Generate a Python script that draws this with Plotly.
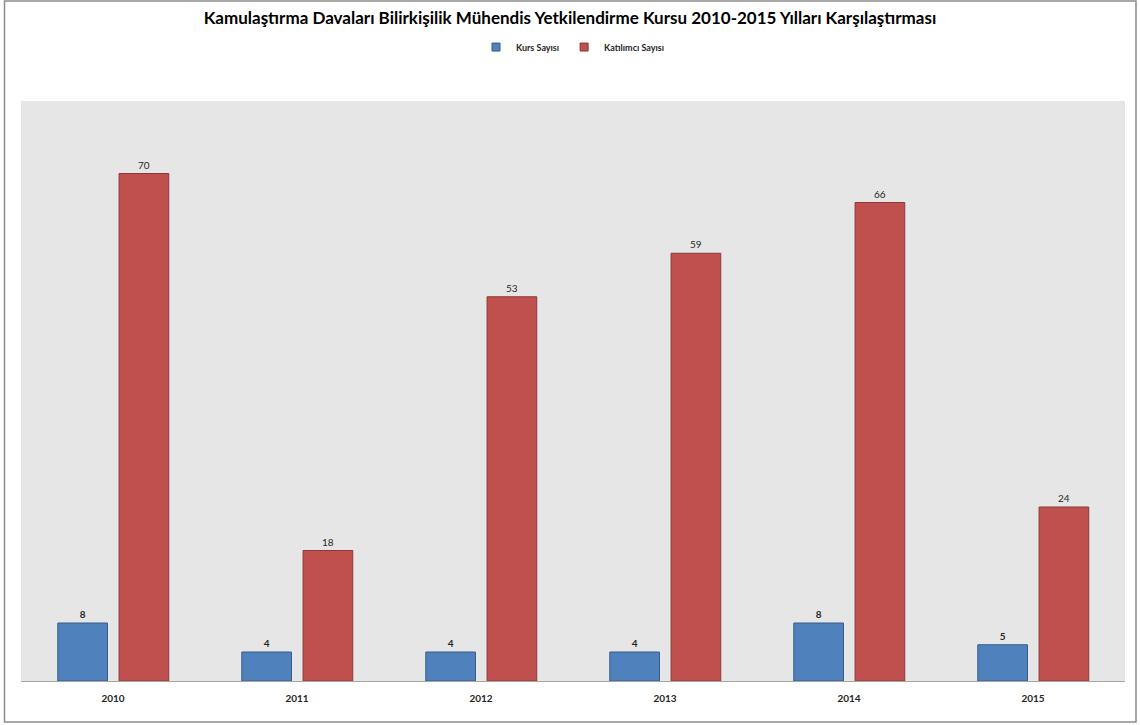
import plotly.graph_objects as go

years = ["2010", "2011", "2012", "2013", "2014", "2015"]
kurs_sayisi = [8, 4, 4, 4, 8, 5]
katilimci_sayisi = [70, 18, 53, 59, 66, 24]

title_text = "Kamulaştırma Davaları Bilirkişilik Mühendis Yetkilendirme Kursu 2010-2015 Yılları Karşılaştırması"
series_names = ["Kurs Sayısı", "Katılımcı Sayısı"]
colors = ["#4f81bd", "#c0504d"]
edge_colors = ["#385d8a", "#8c3836"]

FONT = "Lato"

fig = go.Figure()
fig.add_trace(go.Bar(
    x=years, y=kurs_sayisi, name=series_names[0], showlegend=False,
    marker=dict(color=colors[0], line=dict(color=edge_colors[0], width=1)),
    width=0.27, offset=-0.30,
    text=kurs_sayisi, textposition="outside",
    textfont=dict(family=FONT, size=10, color="#262626", weight="bold"),
    cliponaxis=False,
))
fig.add_trace(go.Bar(
    x=years, y=katilimci_sayisi, name=series_names[1], showlegend=False,
    marker=dict(color=colors[1], line=dict(color=edge_colors[1], width=1)),
    width=0.27, offset=0.033,
    text=katilimci_sayisi, textposition="outside",
    textfont=dict(family=FONT, size=10, color="#262626"),
    cliponaxis=False,
))
# legend entries (small square swatches like the original)
for name, c, ec in zip(series_names, colors, edge_colors):
    fig.add_trace(go.Scatter(
        x=[None], y=[None], mode="markers", name=name,
        marker=dict(symbol="square", size=8, color=c, line=dict(color=ec, width=1)),
    ))

fig.update_layout(
    width=1140, height=725,
    margin=dict(l=21, r=15, t=101, b=44),
    paper_bgcolor="white",
    plot_bgcolor="#e6e6e6",
    barmode="group",
    font=dict(family=FONT, color="#262626"),
    title=dict(text=title_text, x=0.5, xanchor="center", y=0.975, yanchor="middle",
               font=dict(family=FONT, size=17, color="#000000", weight="bold")),
    legend=dict(orientation="h", x=0.5, xanchor="center", y=1.093, yanchor="middle",
                font=dict(family=FONT, size=9, color="#262626", weight="bold"),
                itemwidth=30, tracegroupgap=0),
    xaxis=dict(showline=True, linecolor="#a6a6a6", linewidth=1, showgrid=False,
               ticks="outside", ticklen=8, tickcolor="rgba(0,0,0,0)",
               tickfont=dict(family=FONT, size=10, color="#262626", weight="bold")),
    yaxis=dict(range=[0, 80], visible=False, showgrid=False, zeroline=False),
    shapes=[dict(type="rect", xref="paper", yref="paper",
                 x0=(4.5 - 21) / 1104, x1=(1136 - 21) / 1104,
                 y0=(681 - 722) / 580, y1=(681 - 1) / 580,
                 line=dict(color="#8c8c8c", width=1.5), fillcolor="rgba(0,0,0,0)", layer="below")],
)

fig.write_html("out.html", config={"displayModeBar": False},
               post_script="document.body.style.margin='0';document.body.style.overflow='hidden';")
